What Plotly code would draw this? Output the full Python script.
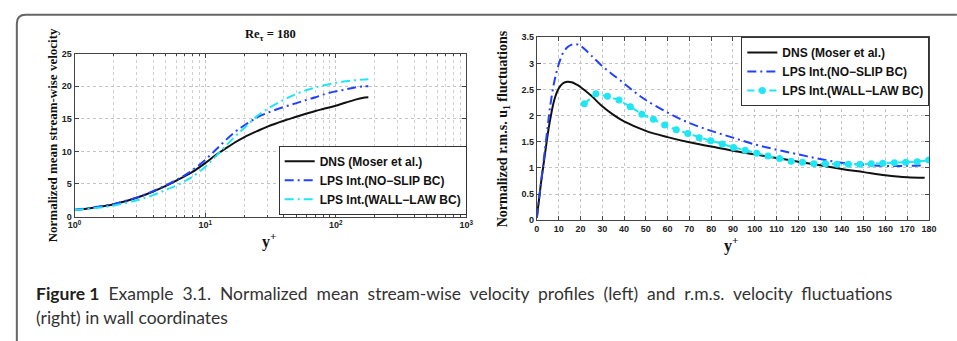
import plotly.graph_objects as go

# ---------------- data ----------------
# Left panel: mean stream-wise velocity u+ versus y+ (log axis)
yplus_mean = [1, 1.5, 2, 3, 4, 5, 6, 7, 8, 10, 12, 14, 17, 20, 25, 30, 40, 50,
              60, 70, 80, 100, 120, 140, 160, 178]
u_dns = [1.0, 1.45, 1.9, 2.9, 3.85, 4.7, 5.5, 6.2, 6.85, 8.2, 9.4, 10.3, 11.4,
         12.2, 13.1, 13.8, 14.7, 15.3, 15.8, 16.2, 16.5, 17.0, 17.5, 17.9, 18.2, 18.3]
u_noslip = [1.05, 1.5, 1.95, 2.95, 3.9, 4.8, 5.6, 6.35, 7.1, 8.7, 10.2, 11.5, 13.0,
            14.0, 15.2, 15.9, 16.8, 17.4, 17.9, 18.3, 18.7, 19.2, 19.5, 19.8, 19.95, 20.0]
u_walllaw = [1.0, 1.35, 1.7, 2.5, 3.3, 4.1, 4.75, 5.45, 6.1, 7.6, 9.2, 10.6, 12.3,
             13.6, 15.4, 16.5, 17.9, 18.8, 19.4, 19.8, 20.1, 20.5, 20.75, 20.9, 21.0, 21.05]

# Right panel: r.m.s. u1 fluctuations versus y+ (linear axis)
yplus_rms_dns = [0, 1, 2, 3, 4, 5, 6, 8, 10, 12, 14, 16, 18, 20, 25, 30, 35, 40, 50,
                 60, 70, 80, 90, 100, 110, 120, 130, 140, 150, 160, 170, 178]
rms_dns = [0.05, 0.4, 0.75, 1.05, 1.35, 1.65, 1.9, 2.3, 2.52, 2.62, 2.65, 2.64, 2.6,
           2.55, 2.38, 2.18, 2.02, 1.89, 1.71, 1.59, 1.49, 1.41, 1.33, 1.26, 1.19,
           1.12, 1.05, 0.98, 0.92, 0.86, 0.82, 0.81]
yplus_rms_noslip = [0, 1, 2, 3, 4, 5, 6, 8, 10, 12, 14, 16, 18, 20, 22, 25, 30, 35, 40,
                    45, 50, 60, 70, 80, 90, 100, 110, 120, 130, 140, 150, 160, 170, 178]
rms_noslip = [0.05, 0.4, 0.75, 1.1, 1.45, 1.8, 2.15, 2.65, 2.98, 3.2, 3.31, 3.36, 3.37,
              3.34, 3.27, 3.15, 2.95, 2.78, 2.62, 2.45, 2.3, 2.06, 1.86, 1.71, 1.58,
              1.45, 1.35, 1.26, 1.17, 1.1, 1.06, 1.04, 1.04, 1.05]
yplus_rms_walllaw = [21.8, 27.1, 32.4, 37.7, 42.9, 48.2, 53.5, 58.7, 64.0, 69.3, 74.5,
                     79.8, 85.1, 90.3, 95.6, 100.9, 106.1, 111.4, 116.7, 121.9, 127.2,
                     132.5, 137.7, 143.0, 148.3, 153.5, 158.8, 164.1, 169.3, 174.6, 179.9]
rms_walllaw = [2.23, 2.42, 2.37, 2.30, 2.17, 2.03, 1.93, 1.82, 1.73, 1.66, 1.58, 1.52,
               1.46, 1.39, 1.34, 1.28, 1.23, 1.18, 1.13, 1.11, 1.08, 1.08, 1.07, 1.07,
               1.07, 1.08, 1.09, 1.10, 1.11, 1.12, 1.15]

# tick labels
log_ticks = [1, 10, 100, 1000]
log_ticktext = ["10<sup>0</sup>", "10<sup>1</sup>", "10<sup>2</sup>", "10<sup>3</sup>"]
log_minor = [m * d for d in (1, 10, 100) for m in range(2, 10)]

NAMES = ["DNS (Moser et al.)", "LPS Int.(NO\u2212SLIP BC)", "LPS Int.(WALL\u2212LAW BC)"]

CAPTION_1 = ("Example 3.1. Normalized mean stream-wise velocity profiles (left) "
             "and r.m.s. velocity fluctuations")
CAPTION_2 = "(right) in wall coordinates"

# ---------------- styling ----------------
W, H = 957, 341
BLACK = "#111111"
BLUE = "#2340ff"
CYAN = "#1ee6f2"
SANS = "Liberation Sans"
SERIF = "Liberation Serif"
DASHDOT = "9px,4px,2px,4px"


def px(x):
    return x / W


def py(y):
    return 1 - y / H


def justified(text, extra):
    """Widen the word gaps of a caption line (the caption is set justified)."""
    return ("&nbsp;" * extra + " ").join(text.split(" "))


fig = go.Figure()

# left panel traces
fig.add_trace(go.Scatter(x=yplus_mean, y=u_dns, name=NAMES[0], mode="lines",
                         line=dict(color=BLACK, width=2, shape="spline"),
                         xaxis="x", yaxis="y", legend="legend"))
fig.add_trace(go.Scatter(x=yplus_mean, y=u_noslip, name=NAMES[1], mode="lines",
                         line=dict(color=BLUE, width=2, dash=DASHDOT, shape="spline"),
                         xaxis="x", yaxis="y", legend="legend"))
fig.add_trace(go.Scatter(x=yplus_mean, y=u_walllaw, name=NAMES[2], mode="lines",
                         line=dict(color=CYAN, width=2, dash=DASHDOT, shape="spline"),
                         xaxis="x", yaxis="y", legend="legend"))

# right panel traces
fig.add_trace(go.Scatter(x=yplus_rms_dns, y=rms_dns, name=NAMES[0], mode="lines",
                         line=dict(color=BLACK, width=2, shape="spline"),
                         xaxis="x2", yaxis="y2", legend="legend2"))
fig.add_trace(go.Scatter(x=yplus_rms_noslip, y=rms_noslip, name=NAMES[1], mode="lines",
                         line=dict(color=BLUE, width=2, dash=DASHDOT, shape="spline"),
                         xaxis="x2", yaxis="y2", legend="legend2"))
fig.add_trace(go.Scatter(x=yplus_rms_walllaw, y=rms_walllaw, name=NAMES[2],
                         mode="lines+markers",
                         line=dict(color=CYAN, width=2, dash="7px,4px"),
                         marker=dict(color=CYAN, size=7),
                         xaxis="x2", yaxis="y2", legend="legend2"))

tickfont = dict(family=SANS, size=9, color="#222222", weight="bold")
common = dict(showline=True, linecolor="#444444", linewidth=1, mirror="allticks",
              ticks="inside", ticklen=4, tickcolor="#444444", tickfont=tickfont,
              showgrid=True, gridcolor="#c4c4c4", griddash="dot", gridwidth=1,
              zeroline=False, fixedrange=True)

fig.update_layout(
    width=W, height=H,
    margin=dict(l=0, r=0, t=0, b=0),
    paper_bgcolor="white", plot_bgcolor="white",
    xaxis=dict(domain=[px(68.7), px(466.5)], anchor="y", type="log", range=[0, 3],
               tickvals=log_ticks, ticktext=log_ticktext,
               minor=dict(tickvals=log_minor, ticks="inside", ticklen=2,
                          tickcolor="#444444", showgrid=True, gridcolor="#d0d0d0",
                          griddash="dot"),
               **common),
    yaxis=dict(domain=[py(218), py(50)], anchor="x", range=[0, 25], dtick=5, **common),
    xaxis2=dict(domain=[px(538.3), px(936.7)], anchor="y2", range=[0, 180], dtick=10,
                **common),
    yaxis2=dict(domain=[py(221.7), py(33.3)], anchor="x2", range=[0, 3.5], dtick=0.5,
                **common),
    showlegend=True,
)

legend_common = dict(bgcolor="white", bordercolor="#333333", borderwidth=1,
                     font=dict(family=SANS, size=12, color="#111111", weight="bold"),
                     xanchor="right", itemwidth=30, tracegroupgap=0,
                     itemclick=False, itemdoubleclick=False)
fig.update_layout(
    legend=dict(x=px(467), y=py(216), yanchor="bottom", **legend_common),
    legend2=dict(x=px(937), y=py(33), yanchor="top", **legend_common),
)

ann = []
# panel title and axis labels
ann.append(dict(text="<b>Re<sub>\u03c4</sub> = 180</b>", x=px(267.6), y=py(31),
                font=dict(family=SERIF, size=12.5, color="#111111")))
ann.append(dict(text="<b>Normalized mean stream-wise velocity</b>", x=px(46), y=py(134),
                textangle=-90, font=dict(family=SERIF, size=13, color="#111111")))
ann.append(dict(text="<b>Normalized r.m.s. u<sub>1</sub> fluctuations</b>", x=px(504),
                y=py(128), textangle=-90, font=dict(family=SERIF, size=14, color="#111111")))
ann.append(dict(text="<b>y<sup>+</sup></b>", x=px(266), y=py(243),
                font=dict(family=SERIF, size=16, color="#111111")))
ann.append(dict(text="<b>y<sup>+</sup></b>", x=px(736), y=py(247),
                font=dict(family=SERIF, size=16, color="#111111")))
# caption
ann.append(dict(text="<b><span style='color:#231f20'>Figure 1</span></b>&nbsp;&nbsp;"
                     + justified(CAPTION_1, 1),
                x=px(27), y=py(297), xanchor="left",
                font=dict(family="Lato", size=17.5, color="#333333")))
ann.append(dict(text=CAPTION_2, x=px(27), y=py(322), xanchor="left",
                font=dict(family="Lato", size=17.5, color="#333333")))
for a in ann:
    a.setdefault("xanchor", "center")
    a.update(xref="paper", yref="paper", yanchor="middle", showarrow=False)
fig.update_layout(annotations=ann)

# rounded frame around the figure
r = 9
path = (f"M {px(10)},{py(350)} L {px(10)},{py(10 + r)} "
        f"Q {px(10)},{py(10)} {px(10 + r)},{py(10)} L {px(965)},{py(10)}")
fig.add_shape(type="path", path=path, xref="paper", yref="paper",
              line=dict(color="#666666", width=2), layer="above")

fig.write_html("out.html")
